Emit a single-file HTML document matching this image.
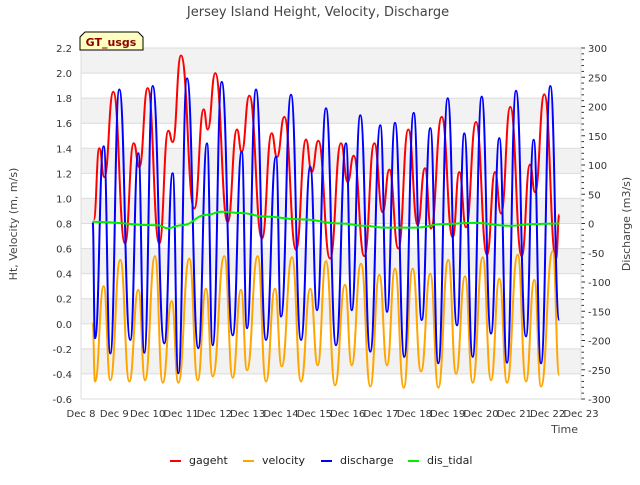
<!DOCTYPE html>
<html><head><meta charset="utf-8"><style>
body{margin:0;background:#fff;font-family:"Liberation Sans","DejaVu Sans",sans-serif;}
svg text{font-family:"DejaVu Sans","Liberation Sans",sans-serif;}
</style></head><body>
<svg id="chart" width="640" height="480" viewBox="0 0 640 480" xmlns="http://www.w3.org/2000/svg">
<rect width="640" height="480" fill="#fff"/>
<g id="bands"></g>
<g id="axes"></g>
<g id="series"></g>
<text x="318" y="16" font-size="13" fill="#444" text-anchor="middle">Jersey Island Height, Velocity, Discharge</text>
<g>
<path d="M80,50 L80,37 L85,32 L138,32 L143,37 L143,50 Z" fill="#ffffc0" stroke="#000" stroke-width="1"/>
<text x="111" y="46" font-size="11" font-weight="bold" fill="#8b0000" text-anchor="middle">GT_usgs</text>
</g>
<text x="578" y="433" font-size="11" fill="#444" text-anchor="end">Time</text>
<text transform="translate(17,224) rotate(-90)" font-size="11" fill="#444" text-anchor="middle">Ht, Velocity (m, m/s)</text>
<text transform="translate(630,224) rotate(-90)" font-size="11" fill="#444" text-anchor="middle">Discharge (m3/s)</text>
<g id="legend"></g>
</svg>
<script>
const xTickLabels=["Dec 8","Dec 9","Dec 10","Dec 11","Dec 12","Dec 13","Dec 14","Dec 15","Dec 16","Dec 17","Dec 18","Dec 19","Dec 20","Dec 21","Dec 22","Dec 23"];
const leftTicks=[2.2,2.0,1.8,1.6,1.4,1.2,1.0,0.8,0.6,0.4,0.2,0.0,-0.2,-0.4,-0.6];
const rightTicks=[300,250,200,150,100,50,0,-50,-100,-150,-200,-250,-300];
// extrema: day offset from Dec 8, value
const gagehtT=[0.38,0.55,0.70,0.97,1.32,1.58,1.75,2.0,2.35,2.62,2.75,3.0,3.4,3.68,3.8,4.03,4.4,4.68,4.82,5.05,5.43,5.72,5.88,6.1,6.45,6.75,6.92,7.12,7.47,7.8,8.0,8.18,8.5,8.8,9.05,9.25,9.52,9.82,10.1,10.32,10.5,10.82,11.15,11.35,11.55,11.85,12.18,12.42,12.6,12.88,13.22,13.47,13.62,13.9,14.25,14.35];
const gagehtV=[0.83,1.40,1.17,1.85,0.64,1.44,1.25,1.88,0.64,1.54,1.45,2.14,0.92,1.71,1.55,2.0,0.81,1.55,1.37,1.82,0.68,1.52,1.33,1.65,0.59,1.47,1.21,1.46,0.52,1.44,1.13,1.34,0.54,1.44,0.89,1.23,0.60,1.55,0.79,1.24,0.76,1.65,0.69,1.21,0.77,1.61,0.55,1.21,0.88,1.73,0.54,1.27,1.05,1.83,0.52,0.87];
const velocityT=[0.35,0.42,0.68,0.88,1.18,1.45,1.72,1.92,2.22,2.45,2.72,2.92,3.25,3.5,3.75,3.95,4.3,4.55,4.8,4.98,5.3,5.55,5.82,6.02,6.33,6.6,6.88,7.1,7.35,7.62,7.92,8.12,8.4,8.68,8.95,9.18,9.42,9.68,9.95,10.2,10.48,10.72,11.02,11.25,11.52,11.75,12.05,12.3,12.55,12.78,13.1,13.35,13.6,13.8,14.15,14.35];
const velocityV=[0.01,-0.46,0.30,-0.45,0.51,-0.46,0.27,-0.45,0.54,-0.47,0.18,-0.47,0.52,-0.45,0.28,-0.42,0.54,-0.43,0.27,-0.37,0.54,-0.46,0.28,-0.34,0.53,-0.46,0.28,-0.33,0.50,-0.49,0.31,-0.33,0.48,-0.50,0.39,-0.33,0.44,-0.51,0.44,-0.38,0.40,-0.51,0.51,-0.40,0.38,-0.47,0.53,-0.45,0.36,-0.47,0.55,-0.46,0.35,-0.50,0.58,-0.41];
const dischargeT=[0.35,0.42,0.68,0.88,1.15,1.48,1.72,1.9,2.15,2.5,2.75,2.92,3.18,3.52,3.78,3.95,4.22,4.55,4.82,4.98,5.25,5.55,5.85,6.0,6.3,6.6,6.88,7.08,7.35,7.65,7.95,8.12,8.38,8.68,8.98,9.18,9.42,9.7,9.98,10.22,10.48,10.72,11.0,11.28,11.5,11.75,12.02,12.3,12.55,12.78,13.05,13.35,13.58,13.8,14.08,14.35];
const dischargeV=[3,-196,132,-222,229,-199,120,-221,235,-205,86,-256,248,-213,137,-208,242,-191,123,-179,229,-199,114,-159,220,-199,97,-148,197,-208,137,-148,185,-219,168,-151,172,-228,189,-165,163,-239,214,-174,154,-228,217,-188,146,-238,227,-193,143,-239,235,-165];
const tidalT=[0.35,2.3,2.6,3.0,3.8,4.2,4.8,5.5,6.6,7.8,8.5,9.1,10.1,10.8,11.8,12.9,13.5,14.35];
const tidalV=[3,-3,-8,-3,15,20,18,12,7,0,-4,-7,-7,-1,1,-4,-1,0];

const X0=81,X1=581,YT=48,YB=399;
const xs=d=>X0+d*(X1-X0)/15;
const yl=v=>YT+(2.2-v)*(YB-YT)/2.8;
const yr=v=>YT+(300-v)*(YB-YT)/600;
const NS="http://www.w3.org/2000/svg";
function mk(tag,attrs,parent){const e=document.createElementNS(NS,tag);for(const k in attrs)e.setAttribute(k,attrs[k]);parent.appendChild(e);return e;}
const bands=document.getElementById('bands'),axes=document.getElementById('axes'),series=document.getElementById('series');
for(let i=0;i<leftTicks.length-1;i++){
  if(i%2===0){const r=mk('rect',{x:X0,y:yl(leftTicks[i]),width:X1-X0,height:yl(leftTicks[i+1])-yl(leftTicks[i]),fill:'#f2f2f2'},bands);
  
  }
}
leftTicks.forEach(v=>{
  const l=mk('line',{x1:X0,x2:X1,y1:yl(v),y2:yl(v),stroke:'#dcdcdc','stroke-width':1},bands);
  
  
  const t=mk('text',{x:72,y:yl(v)+4,'font-size':10,fill:'#333','text-anchor':'end'},axes);
  t.textContent=v.toFixed(1);
  
  
});
rightTicks.forEach(v=>{
  const t=mk('text',{x:588,y:yr(v)+4,'font-size':10,fill:'#333'},axes);
  t.textContent=v;
  
  
});
for(let v=-300;v<=300;v+=10){mk('line',{x1:X1,x2:X1+(v%50===0?4:3),y1:yr(v),y2:yr(v),stroke:'#333','stroke-width':1},axes);}
mk('line',{x1:X0,x2:X0,y1:YT,y2:YB,stroke:'#ddd'},axes);
mk('line',{x1:X1,x2:X1,y1:YT,y2:YB,stroke:'#ddd'},axes);
mk('line',{x1:X0,x2:X1,y1:YB,y2:YB,stroke:'#ddd'},axes);
xTickLabels.forEach((s,i)=>{
  const t=mk('text',{x:xs(i),y:417,'font-size':10,fill:'#333','text-anchor':'middle'},axes);
  t.textContent=s;
  
  
});
function smooth(T,V,yf){
  let d='M'+xs(T[0]).toFixed(1)+','+yf(V[0]).toFixed(1);
  for(let i=1;i<T.length;i++){
    const x0=xs(T[i-1]),x1=xs(T[i]),y0=yf(V[i-1]),y1=yf(V[i]),m=(x0+x1)/2;
    d+=` C${m.toFixed(1)},${y0.toFixed(1)} ${m.toFixed(1)},${y1.toFixed(1)} ${x1.toFixed(1)},${y1.toFixed(1)}`;
  }
  return d;
}
function line(T,V,yf,color,name){
  const p=mk('path',{d:smooth(T,V,yf),fill:'none',stroke:color,'stroke-width':2,'stroke-linejoin':'round'},series);
  
  
}
line(gagehtT,gagehtV,yl,'#ff0000','gageht-line');
line(velocityT,velocityV,yl,'#ffa500','velocity-line');
line(dischargeT,dischargeV,yr,'#0000ff','discharge-line');
line(tidalT,tidalV,yr,'#00ee00','dis-tidal-line');
const leg=document.getElementById('legend');
const items=[['gageht','#ff0000',170],['velocity','#ffa500',243],['discharge','#0000ff',321],['dis_tidal','#00ee00',408]];
items.forEach(([n,c,x])=>{
  const g=mk('g',{},leg);
  
  
  mk('line',{x1:x,x2:x+11,y1:480-19,y2:480-19,stroke:c,'stroke-width':2},g);
  const t=mk('text',{x:x+19,y:464,'font-size':11,fill:'#222'},g);
  t.textContent=n;
});
</script>
</body></html>
